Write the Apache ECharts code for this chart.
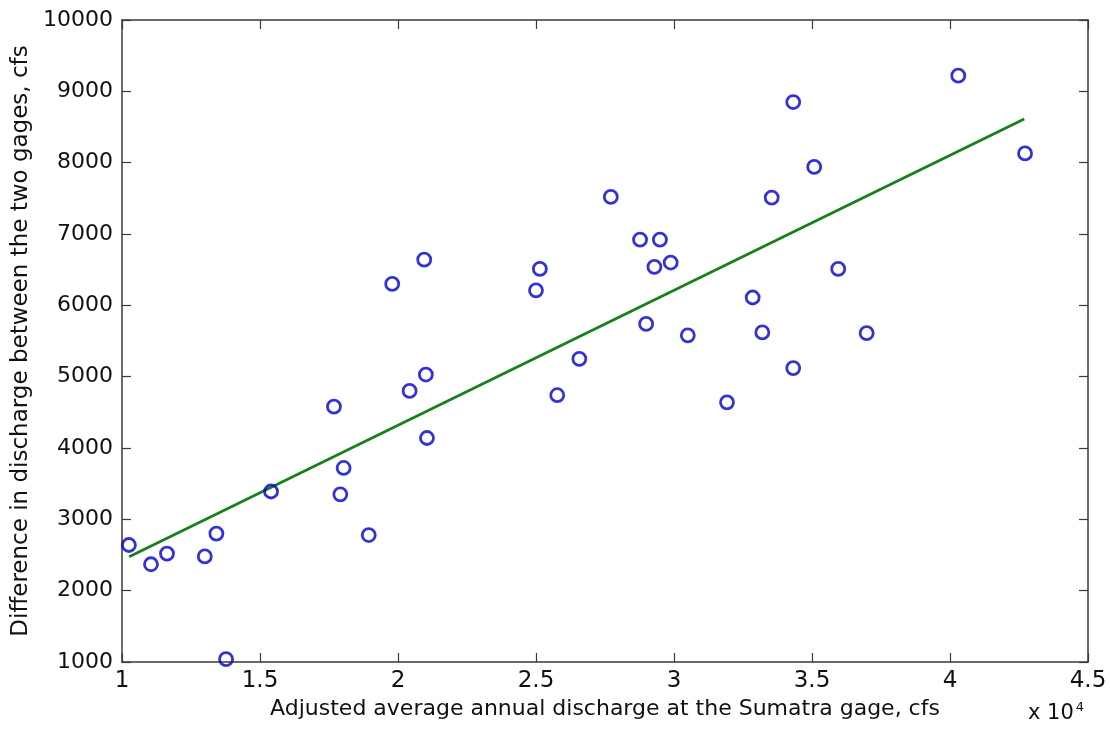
<!DOCTYPE html>
<html>
<head>
<meta charset="utf-8">
<title>Sumatra gage discharge</title>
<script src="https://cdn.jsdelivr.net/npm/echarts@6/dist/echarts.min.js"></script>
<style>
	html, body { margin: 0; padding: 0; background: #fff; }
	#chart { width: 1110px; height: 730px; }
</style>
</head>
<body>
<div id="chart"></div>
<script>
// adjusted average annual discharge at Sumatra (cfs)
var sumatraFlow = [
	10250, 11050, 11630, 13000, 13420, 13770, 15400, 17680, 17910, 18030,
	18940, 19790, 20420, 20950, 21010, 21050, 25000, 25140, 25770, 26570,
	27710, 28770, 28990, 29290, 29490, 29880, 30500, 31920, 32850, 33200,
	33540, 34320, 34320, 35080, 35950, 36980, 40300, 42720
];
// difference in discharge between the two gages (cfs)
var flowDiff = [
	2640, 2370, 2520, 2480, 2800, 1040, 3390, 4580, 3350, 3720,
	2780, 6300, 4800, 6640, 5030, 4140, 6210, 6510, 4740, 5250,
	7520, 6920, 5740, 6540, 6920, 6600, 5580, 4640, 6110, 5620,
	7510, 8850, 5120, 7940, 6510, 5610, 9220, 8130
];
// least squares fit line at its two ends
var fitX = [10260, 42690];
var fitY = [2476, 8612];

var xTicks = { min: 10000, max: 45000, step: 5000 };
var yTicks = { min: 1000, max: 10000, step: 1000 };

var points = sumatraFlow.map(function(x, i) {
	return [x, flowDiff[i]];
});
var fitLine = fitX.map(function(x, i) {
	return [x, fitY[i]];
});

var axisColor = '#3a3a3a';
var labelFont = 'DejaVu Sans';

function frameAxis(pos) {
	return {
		type: 'value',
		position: pos,
		min: pos == 'top' ? xTicks.min : yTicks.min,
		max: pos == 'top' ? xTicks.max : yTicks.max,
		interval: pos == 'top' ? xTicks.step : yTicks.step,
		axisLine: { show: true, onZero: false, lineStyle: { color: axisColor, width: 1.5 } },
		axisTick: { show: true, inside: true, length: 9, lineStyle: { color: axisColor, width: 1.2 } },
		axisLabel: { show: false },
		splitLine: { show: false }
	};
}

var myChart = echarts.init(document.getElementById('chart'));
var option = {
	backgroundColor: '#ffffff',
	animation: false,
	grid: { left: 122, right: 22, top: 20, bottom: 68 },
	xAxis: [{
		type: 'value',
		position: 'bottom',
		min: xTicks.min,
		max: xTicks.max,
		interval: xTicks.step,
		name: 'Adjusted average annual discharge at the Sumatra gage, cfs',
		nameLocation: 'middle',
		nameGap: 26,
		nameTextStyle: { fontFamily: labelFont, fontSize: 22, color: '#111' },
		axisLine: { show: true, onZero: false, lineStyle: { color: axisColor, width: 1.5 } },
		axisTick: { show: true, inside: true, length: 9, lineStyle: { color: axisColor, width: 1.2 } },
		axisLabel: {
			margin: 8,
			fontFamily: labelFont,
			fontSize: 23,
			color: '#111',
			formatter: function(v) { return String(v / 10000); }
		},
		splitLine: { show: false }
	}, frameAxis('top')],
	yAxis: [{
		type: 'value',
		position: 'left',
		min: yTicks.min,
		max: yTicks.max,
		interval: yTicks.step,
		name: 'Difference in discharge between the two gages, cfs',
		nameLocation: 'middle',
		nameGap: 86,
		nameTextStyle: { fontFamily: labelFont, fontSize: 23, color: '#111' },
		axisLine: { show: true, onZero: false, lineStyle: { color: axisColor, width: 1.5 } },
		axisTick: { show: true, inside: true, length: 9, lineStyle: { color: axisColor, width: 1.2 } },
		axisLabel: {
			margin: 9,
			fontFamily: labelFont,
			fontSize: 22,
			color: '#111',
			formatter: function(v) { return String(v); }
		},
		splitLine: { show: false }
	}, frameAxis('right')],
	series: [{
		type: 'scatter',
		xAxisIndex: 0,
		yAxisIndex: 0,
		symbol: 'circle',
		symbolSize: 13,
		itemStyle: { color: 'rgba(0,0,0,0)', borderColor: '#0000c8', borderWidth: 2.8 },
		data: points,
		z: 3
	}, {
		type: 'line',
		xAxisIndex: 0,
		yAxisIndex: 0,
		symbol: 'none',
		lineStyle: { color: '#18801a', width: 2.8 },
		data: fitLine,
		z: 2
	}],
	//x 10^4 exponent label under the axis end
	graphic: [{
		type: 'text',
		left: 1028,
		top: 701,
		style: {
			text: 'x 10{s|4}',
			fontFamily: labelFont,
			fontSize: 21,
			fill: '#111',
			rich: {
				s: { fontFamily: labelFont, fontSize: 13, verticalAlign: 'top', padding: [0, 0, 12, 2] }
			}
		}
	}]
};
myChart.setOption(option);
</script>
</body>
</html>
